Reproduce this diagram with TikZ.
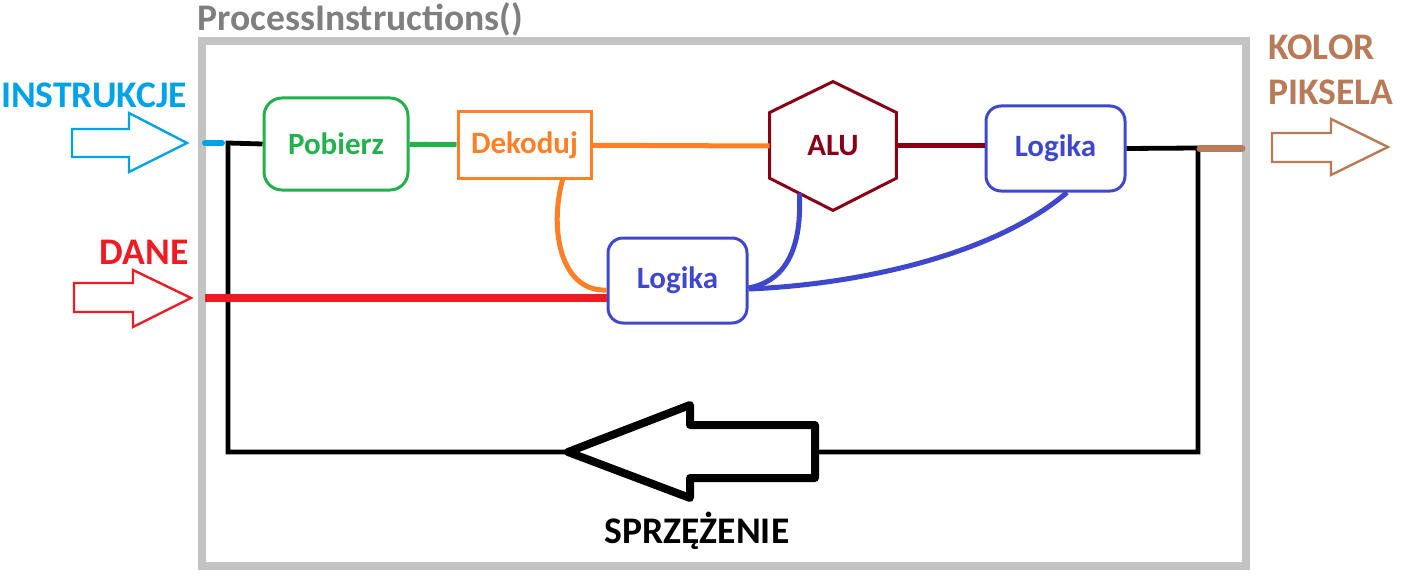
\documentclass[tikz,border=0pt]{standalone}
\usepackage{fontspec}
\setmainfont{Carlito}
\usetikzlibrary{calc}

\definecolor{framegray}{HTML}{C3C3C3}
\definecolor{titlegray}{HTML}{7F7F7F}
\definecolor{instrblue}{HTML}{00A2E8}
\definecolor{danered}{HTML}{ED1C24}
\definecolor{fetchgreen}{HTML}{22B14C}
\definecolor{decodeorange}{HTML}{FF7F27}
\definecolor{aludark}{HTML}{880015}
\definecolor{logicblue}{HTML}{3F48CC}
\definecolor{pixelbrown}{HTML}{B97A57}

\tikzset{
  label text/.style={font=\bfseries\fontsize{18.8}{22.5}\selectfont, inner sep=0pt},
  box text/.style={font=\bfseries\fontsize{15.5}{18}\selectfont},
  stagebox/.style={draw, line width=1.5pt, box text, inner sep=0pt},
  hollow arrow/.style={line width=1.2pt, draw=#1, fill=white},
}

\begin{document}
\begin{tikzpicture}[x=0.5pt, y=-0.5pt]
  \useasboundingbox (0,0) rectangle (1408,583);

  % Frame of the function
  \draw[framegray, line width=4pt] (202,41) rectangle (1246,566);
  \node[label text, titlegray, anchor=west] (title) at (197,19) {ProcessInstructions()};

  % Inputs and output
  \node[label text, instrblue] (instr) at (94,95) {INSTRUKCJE};
  \draw[hollow arrow=instrblue] (72,129) -- (129,129) -- (129,113) -- (187,143)
    -- (129,172) -- (129,157) -- (72,157) -- cycle;
  \node[label text, danered] (dane) at (144,252) {DANE};
  \draw[hollow arrow=danered] (74,283) -- (133,283) -- (133,270) -- (191,298)
    -- (133,327) -- (133,312) -- (74,312) -- cycle;
  \node[label text, pixelbrown, align=left, anchor=west] (kolor) at (1268,70) {KOLOR\\PIKSELA};
  \draw[hollow arrow=pixelbrown] (1272,133) -- (1331,133) -- (1331,119) -- (1388,147)
    -- (1331,175) -- (1331,162) -- (1272,162) -- cycle;

  % Stages
  \node[stagebox, fetchgreen, rounded corners=9pt, minimum width=72pt, minimum height=46pt]
    (pobierz) at (336,144) {Pobierz};
  \node[stagebox, decodeorange, minimum width=66.5pt, minimum height=33pt]
    (dekoduj) at (524.5,145) {Dekoduj};
  \node[box text, aludark, minimum width=63pt, minimum height=64pt, inner sep=0pt]
    (alu) at (833,146) {ALU};
  \draw[aludark, line width=1.5pt] (alu.north)
    -- ($(alu.north east)!0.24!(alu.south east)$)
    -- ($(alu.north east)!0.75!(alu.south east)$)
    -- (alu.south)
    -- ($(alu.north west)!0.75!(alu.south west)$) coordinate (aluBL)
    -- ($(alu.north west)!0.24!(alu.south west)$)
    -- cycle;
  \node[stagebox, logicblue, rounded corners=7.5pt, minimum width=69.5pt, minimum height=42.5pt]
    (logikaB) at (1055.5,148.5) {Logika};
  \node[stagebox, logicblue, rounded corners=7.5pt, minimum width=69.5pt, minimum height=42.5pt]
    (logikaA) at (677.5,280.5) {Logika};

  % Coordinates for the loose ends
  \coordinate (instrIn) at (205,143);
  \coordinate (instrEnd) at (222,143);
  \coordinate (loopTL) at (228,143);
  \coordinate (loopTR) at (1198,148);
  \coordinate (pixOut) at (1200,149);
  \coordinate (pixEnd) at (1242,149);
  \coordinate (daneIn) at (205,298);
  \coordinate (fbTip) at (568,452);
  \coordinate (fbEnd) at (815,452);

  % Straight connections
  \draw[instrblue, line width=3pt, line cap=round] (instrIn) -- (instrEnd);
  \draw[line width=2.4pt] (pobierz.west) -- (loopTL) |- (fbTip);
  \draw[line width=2.4pt] (logikaB.east) -- (loopTR) |- (fbEnd);
  \draw[pixelbrown, line width=3.5pt, line cap=round] (pixOut) -- (pixEnd);
  \draw[danered, line width=4pt] (daneIn) -- (daneIn -| logikaA.west);
  \draw[fetchgreen, line width=2.5pt] (pobierz) -- (dekoduj);
  \draw[decodeorange, line width=2.5pt] (dekoduj) -- (alu.west);
  \draw[aludark, line width=2.5pt] (alu.east) -- (alu.east -| logikaB.west);

  % Curved connections
  \draw[decodeorange, line width=2.5pt] ($(dekoduj.south west)!0.78!(dekoduj.south east)$)
    .. controls +(-14,52) and +(-45,2) .. ([yshift=-4.75pt]logikaA.west);
  \draw[logicblue, line width=2.5pt] ($(aluBL)!0.47!(alu.south)$)
    .. controls +(3,63) and +(32,-6) .. ([yshift=-3.75pt]logikaA.east);
  \draw[logicblue, line width=2.5pt] ([xshift=5.75pt]logikaB.south)
    .. controls (990,258) and (850,285) .. ([yshift=-4.25pt]logikaA.east);

  % Feedback arrow
  \draw[line width=4pt, line join=round, fill=white] (fbTip) -- (690,405) -- (690,425)
    -- (815,425) -- (815,478) -- (690,478) -- (690,498) -- cycle;
  \node[label text] (sprzezenie) at (697,531) {SPRZĘŻENIE};
\end{tikzpicture}
\end{document}
